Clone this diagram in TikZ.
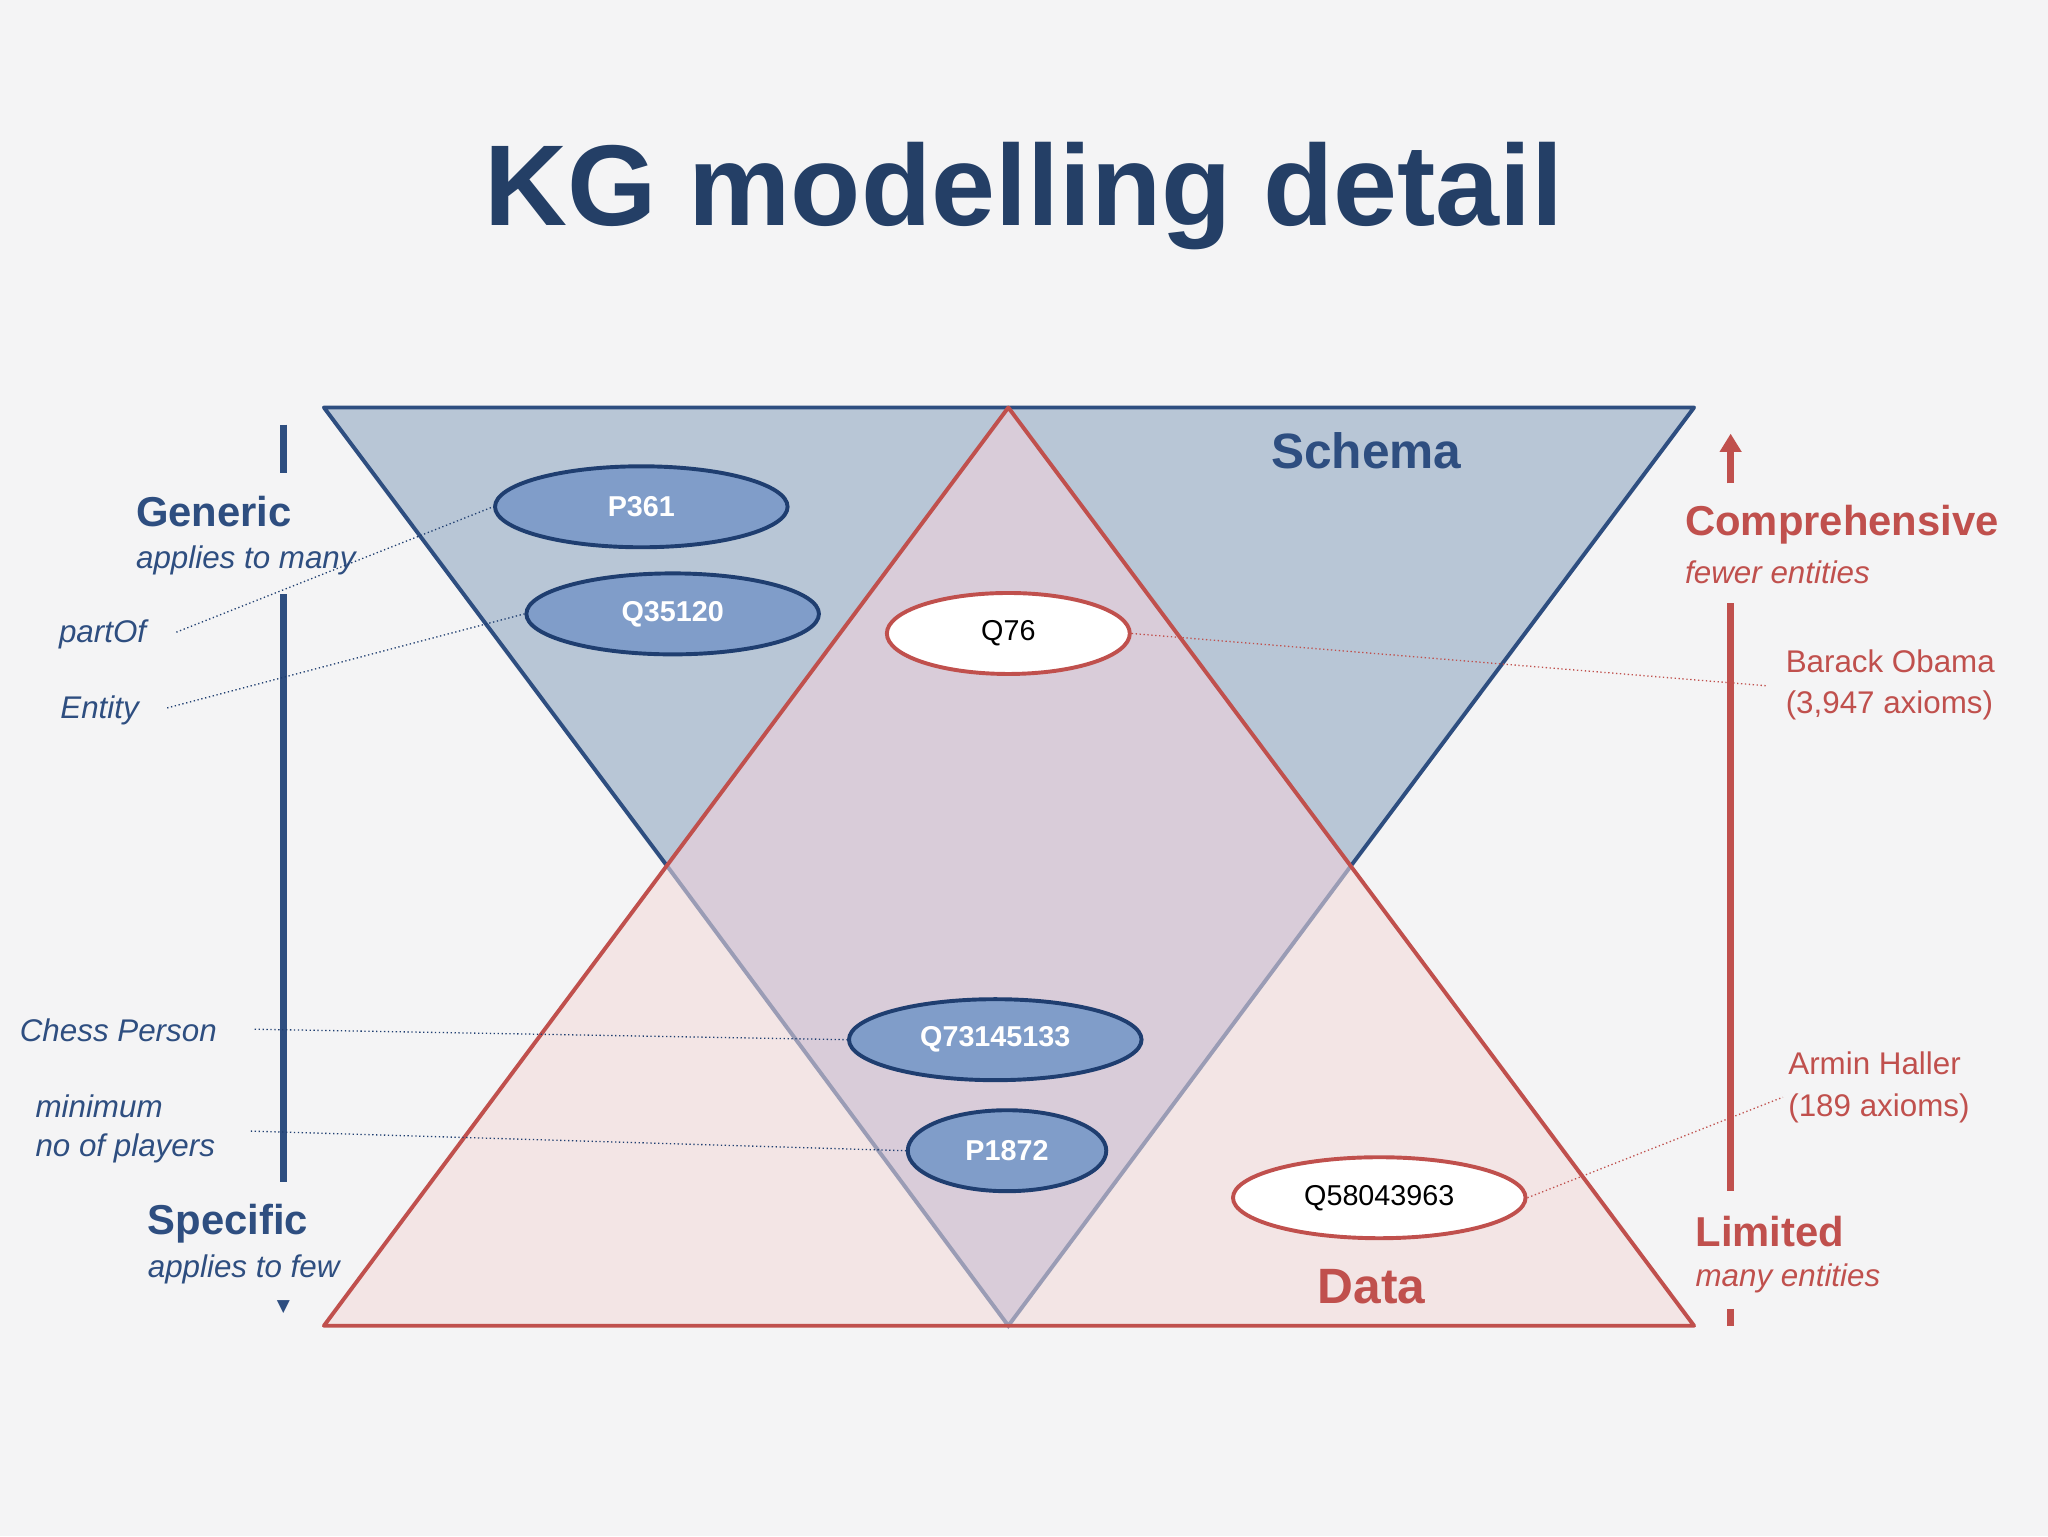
\documentclass[tikz,border=0pt]{standalone}
\usepackage{fontspec}
\setmainfont{Liberation Sans}
\newfontfamily\symfont{DejaVu Sans}
\usetikzlibrary{shapes.geometric,arrows.meta}
\definecolor{bg}{HTML}{F4F4F5}
\definecolor{dblue}{HTML}{243F66}
\definecolor{tblue}{HTML}{2E4E80}
\definecolor{eblue}{HTML}{1F3E70}
\definecolor{fblue}{HTML}{809DC9}
\definecolor{sblue}{HTML}{B8C6D6}
\definecolor{rred}{HTML}{C0504D}
\definecolor{fpink}{HTML}{F3E5E5}
\definecolor{fmix}{HTML}{D9CCD9}
\definecolor{faded}{HTML}{9A9CB5}
\tikzset{
 x=1pt,y=-1pt,
 bell/.style={ellipse,draw=eblue,line width=3pt,fill=fblue,minimum width=224pt,minimum height=62pt,inner sep=0pt,text=white,font=\fontsize{22}{26}\selectfont\bfseries},
 rell/.style={ellipse,draw=rred,line width=3pt,fill=white,minimum width=224pt,minimum height=62pt,inner sep=0pt,text=black,font=\fontsize{22}{26}\selectfont},
 bbig/.style={anchor=west,text=tblue,font=\fontsize{32}{36}\selectfont\bfseries,inner sep=0pt},
 bsmall/.style={anchor=west,text=tblue,font=\fontsize{24}{30}\selectfont\itshape,inner sep=0pt,align=left},
 rbig/.style={anchor=west,text=rred,font=\fontsize{32}{36}\selectfont\bfseries,inner sep=0pt},
 rsmall/.style={anchor=west,text=rred,font=\fontsize{24}{30}\selectfont\itshape,inner sep=0pt,align=left},
 rtext/.style={anchor=west,text=rred,font=\fontsize{24}{32}\selectfont,inner sep=0pt,align=left},
 bdot/.style={draw=eblue,dotted,line width=1pt},
 rdot/.style={draw=rred,dotted,line width=1pt},
}
\begin{document}
\begin{tikzpicture}
\fill[bg] (0,0) rectangle (1568,1176);
\useasboundingbox (0,0) rectangle (1568,1176);
\node[text=dblue,font=\fontsize{88}{96}\selectfont\bfseries] (title) at (784,150) {KG modelling detail};
% triangles
\fill[sblue] (248,312) -- (1297,312) -- (772,1015) -- cycle;
\fill[fpink] (772,312) -- (248,1015) -- (1297,1015) -- cycle;
\fill[fmix] (772,312) -- (510,662) -- (772,1015) -- (1035,662) -- cycle;
\draw[faded,line width=3pt] (510,662) -- (772,1015) -- (1035,662);
\draw[tblue,line width=3pt,line join=round] (510,662) -- (248,312) -- (1297,312) -- (1035,662);
\draw[rred,line width=3pt,line join=round] (772,312) -- (248,1015) -- (1297,1015) -- cycle;
\node[text=tblue,font=\fontsize{38}{42}\selectfont\bfseries] (schema) at (1046,345) {Schema};
\node[text=rred,font=\fontsize{38}{42}\selectfont\bfseries] (data) at (1050,985) {Data};
% ellipses
\node[bell] (p361) at (491,388) {P361};
\node[bell] (q35120) at (515,470) {Q35120};
\node[bell] (q731) at (762,796) {Q73145133};
\node[bell,minimum width=152pt] (p1872) at (771,881) {P1872};
\node[rell,minimum width=186pt] (q76) at (772,485) {Q76};
\node[rell] (q580) at (1056,917) {Q58043963};
% left axis
\draw[tblue,line width=5pt] (217,325) -- (217,362);
\draw[tblue,line width=5pt] (217,455) -- (217,905);
\node[text=tblue,font=\symfont\fontsize{13}{13}\selectfont,inner sep=0pt] (ldown) at (217,1001) {▼};
\node[bbig] (gen) at (104,392) {Generic};
\node[bsmall] (gen2) at (104,429) {applies to many};
\node[bsmall] (partof) at (45,486) {partOf};
\node[bsmall] (entity) at (46,544) {Entity};
\node[bsmall] (chess) at (15,789) {Chess Person};
\node[bsmall,anchor=north west] (mini) at (27,838) {minimum\\no of players};
\node[bbig] (spec) at (113,937) {Specific};
\node[bsmall] (spec2) at (113,972) {applies to few};
\coordinate (c1) at (135,484);
\coordinate (c2) at (128,542);
\coordinate (c3) at (195,788);
\coordinate (c4) at (192,866);
\draw[bdot] (c1) -- (p361.west);
\draw[bdot] (c2) -- (q35120.west);
\draw[bdot] (c3) -- (q731.west);
\draw[bdot] (c4) -- (p1872.west);
% right axis
\coordinate (ra1) at (1325,370);
\coordinate (ra2) at (1325,332);
\draw[rred,line width=5pt,-{Triangle[length=14pt,width=16pt]}] (ra1) -- (ra2);
\draw[rred,line width=5pt] (1325,462) -- (1325,912);
\draw[rred,line width=5pt] (1325,1002) -- (1325,1015);
\node[rbig] (comp) at (1290,402) {Comprehensive};
\node[rsmall] (comp2) at (1290,438) {fewer entities};
\node[rtext,anchor=north west] (obama) at (1367,497) {Barack Obama\\(3,947 axioms)};
\node[rtext,anchor=north west] (armin) at (1369,805) {Armin Haller\\(189 axioms)};
\node[rbig] (lim) at (1298,943) {Limited};
\node[rsmall] (lim2) at (1298,979) {many entities};
\coordinate (d1) at (1352,525);
\coordinate (d2) at (1365,840);
\draw[rdot] (q76.east) -- (d1);
\draw[rdot] (q580.east) -- (d2);
\end{tikzpicture}
\end{document}
